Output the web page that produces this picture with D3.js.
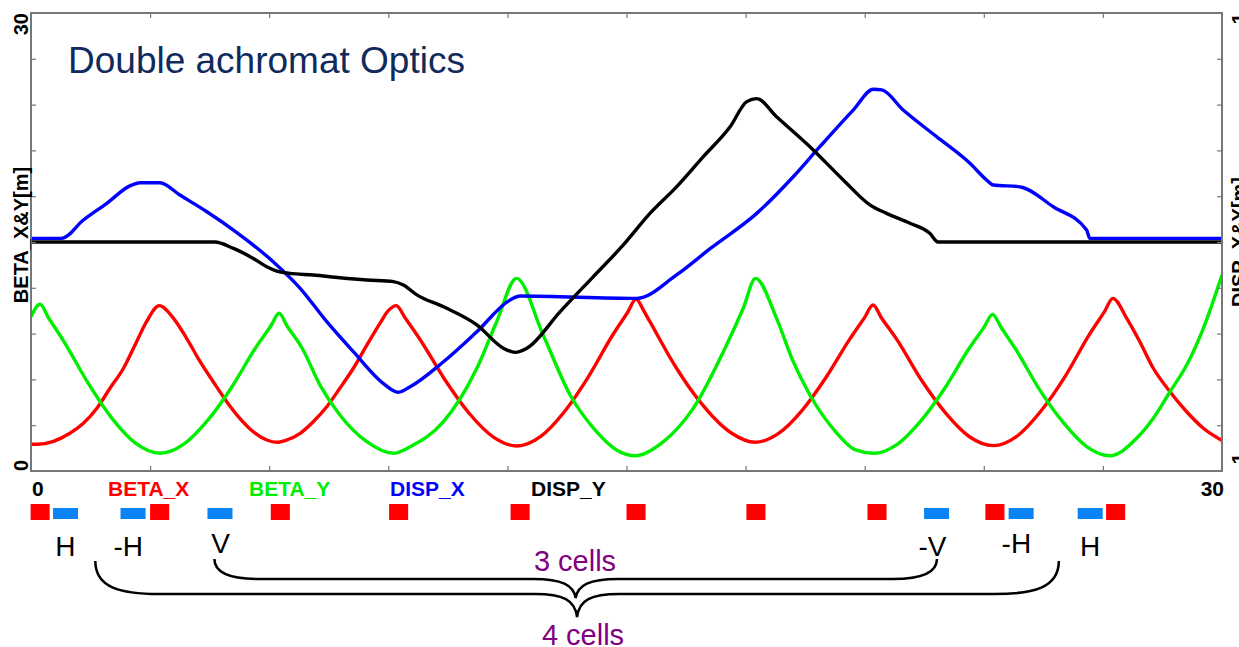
<!DOCTYPE html>
<html>
<head>
<meta charset="utf-8">
<script src="https://cdn.jsdelivr.net/npm/d3@7"></script>
<style>
  body { margin: 0; background: #fff; }
  text { font-family: "Liberation Sans", Arial, sans-serif; }
</style>
</head>
<body>
<div id="chart"></div>
<script>
// optics functions: [s (m), value]
const betaX = [
  [0, 1.75], [0.18, 1.75], [0.98, 2.47], [1.32, 3.12], [1.66, 4.11], [1.99, 5.42], [2.33, 6.73], [2.66, 8.47], [2.91, 9.78], [3.23, 10.83],
  [3.59, 10.0], [3.92, 8.69], [4.26, 7.16], [4.59, 5.85], [4.93, 4.54], [5.26, 3.45], [5.60, 2.57], [5.94, 2.03], [6.19, 1.88],
  [6.44, 2.03], [6.78, 2.47], [7.11, 3.23], [7.45, 4.21], [7.78, 5.42], [8.12, 6.73], [8.46, 8.25], [8.79, 9.67], [9.0, 10.5], [9.2, 10.83],
  [9.43, 10.0], [9.82, 8.53], [10.43, 5.96], [11.03, 3.80], [11.64, 2.24], [12.24, 1.64],
  [12.84, 2.27], [13.44, 3.90], [14.04, 6.17], [14.64, 8.86], [15.03, 10.40], [15.24, 11.27],
  [15.45, 10.42], [15.59, 9.78], [16.26, 6.73], [16.85, 4.54], [17.64, 2.49], [18.24, 1.88],
  [18.83, 2.46], [19.43, 3.99], [20.02, 6.11], [20.62, 8.62], [21.0, 10.06], [21.21, 10.87],
  [21.42, 10.04], [21.82, 8.57], [22.42, 5.99], [23.03, 3.82], [23.63, 2.26], [24.24, 1.66],
  [24.84, 2.29], [25.44, 3.93], [26.05, 6.20], [26.65, 8.90], [27.04, 10.44], [27.25, 11.31],
  [27.6, 10.0], [27.93, 8.47], [28.27, 6.73], [28.69, 5.19], [29.11, 3.88], [29.53, 2.80], [30, 2.0]
];

const betaY = [
  [0, 10.11], [0.23, 10.92], [0.44, 10.04], [0.83, 8.48], [1.44, 5.75], [2.04, 3.45], [2.65, 1.79], [3.25, 1.16],
  [3.85, 1.76], [4.45, 3.31], [5.05, 5.47], [5.65, 8.04], [6.04, 9.50], [6.25, 10.33],
  [6.45, 9.50], [6.83, 8.04], [7.28, 5.63], [7.78, 3.67], [8.46, 1.92], [9.13, 1.16],
  [9.55, 1.59], [10.39, 3.23], [11.23, 6.73], [11.73, 9.78], [12.23, 12.62],
  [12.9, 8.91], [13.58, 4.98], [14.25, 2.57], [14.75, 1.38], [15.23, 1.0],
  [15.93, 1.92], [16.68, 4.1], [17.52, 8.25], [17.94, 10.66], [18.25, 12.62],
  [18.78, 10.0], [19.2, 7.16], [19.62, 4.98], [20.27, 2.57], [20.77, 1.38], [21.22, 1.16],
  [21.82, 1.75], [22.42, 3.30], [23.02, 5.44], [23.62, 7.99], [24.01, 9.44], [24.22, 10.26],
  [24.43, 9.43], [24.81, 7.95], [25.40, 5.35], [26.0, 3.18], [26.59, 1.60], [27.18, 1.0],
  [27.85, 2.14], [28.27, 3.45], [28.69, 5.19], [29.11, 6.94], [29.53, 9.35], [30, 12.84]
];

const dispX = [
  [0, 0.016], [0.77, 0.016], [1.32, 0.096], [1.91, 0.169], [2.49, 0.245], [2.75, 0.259], [3.25, 0.259],
  [3.75, 0.205], [4.43, 0.132], [5.10, 0.052], [6.10, -0.086], [6.78, -0.202], [7.45, -0.348],
  [8.12, -0.479], [8.87, -0.617], [9.25, -0.656], [9.55, -0.632], [10.39, -0.523], [11.23, -0.392],
  [12.07, -0.253], [12.32, -0.236], [15.26, -0.246], [16.26, -0.144], [17.13, -0.026], [18.28, 0.125],
  [19.20, 0.285], [19.87, 0.416], [20.71, 0.576], [21.22, 0.667], [21.43, 0.664], [21.97, 0.576],
  [22.81, 0.46], [23.65, 0.344], [24.07, 0.271], [24.24, 0.249], [24.91, 0.241], [25.75, 0.154],
  [26.59, 0.052], [26.67, 0.016], [30, 0.016]
];

const dispY = [
  [0, 0], [4.63, 0], [5.10, -0.028], [5.60, -0.072], [5.94, -0.108], [6.19, -0.127], [6.52, -0.137],
  [7.11, -0.144], [7.78, -0.156], [8.46, -0.166], [9.13, -0.173], [9.38, -0.188], [9.72, -0.231],
  [10.39, -0.283], [11.23, -0.362], [11.90, -0.464], [12.19, -0.482], [12.49, -0.464], [13.33, -0.304],
  [14.16, -0.152], [14.92, -0.013], [15.59, 0.125], [16.26, 0.241], [16.93, 0.372], [17.61, 0.503],
  [18.03, 0.613], [18.28, 0.626], [18.78, 0.547], [19.62, 0.416], [20.46, 0.271], [21.13, 0.162],
  [21.55, 0.125], [22.14, 0.082], [22.64, 0.038], [22.85, 0], [30, 0]
];

// lattice elements (centre s in m)
const quadS = [0.23, 3.24, 6.28, 9.26, 12.32, 15.24, 18.26, 21.31, 24.28, 27.32];
const bendS = [0.87, 2.57, 4.76, 22.81, 24.94, 26.68];
const bendLabels = ["H", "-H", "V", "-V", "-H", "H"];

// braces under the lattice
const braceFrom = [4.62, 1.62];
const braceTo = [22.82, 25.89];
const braceLabels = ["3 cells", "4 cells"];

const legendNames = ["BETA_X", "BETA_Y", "DISP_X", "DISP_Y"];
const legendColors = ["#ff0000", "#00ee00", "#0000ff", "#000000"];

//*********************************************
// canvas
const W = 1239, H = 647;
const frame = {left: 31, right: 1222, top: 13, bottom: 471};

const svg = d3.select("#chart").append("svg")
    .attr("width", W)
    .attr("height", H);

svg.append("rect").attr("width", W).attr("height", H).attr("fill", "#fff");

const x = d3.scaleLinear().domain([0, 30]).range([frame.left, frame.right]);
const yBeta = d3.scaleLinear().domain([0, 30]).range([frame.bottom, frame.top]);
const yDisp = d3.scaleLinear().domain([-1, 1]).range([frame.bottom, frame.top]);

svg.append("clipPath").attr("id", "clip")
  .append("rect")
    .attr("x", frame.left).attr("y", frame.top)
    .attr("width", frame.right - frame.left)
    .attr("height", frame.bottom - frame.top);

// title
svg.append("text")
    .attr("x", 68)
    .attr("y", 73)
    .attr("fill", "#102a5c")
    .style("font-size", "37px")
    .text("Double achromat Optics");

// curves
const curves = [
  {data: betaX, y: yBeta, color: legendColors[0]},
  {data: betaY, y: yBeta, color: legendColors[1]},
  {data: dispX, y: yDisp, color: legendColors[2]},
  {data: dispY, y: yDisp, color: legendColors[3]}
];

const gCurves = svg.append("g").attr("clip-path", "url(#clip)");
curves.forEach(c => {
  const line = d3.line()
      .x(d => x(d[0]))
      .y(d => c.y(d[1]))
      .curve(d3.curveMonotoneX);
  gCurves.append("path")
      .datum(c.data)
      .attr("d", line)
      .attr("fill", "none")
      .attr("stroke", c.color)
      .attr("stroke-width", 3.4)
      .attr("stroke-linejoin", "round");
});

// frame and inward ticks
const frameColor = "#777";
const tickStyle = g => {
  g.select(".domain").remove();
  g.selectAll(".tick line").attr("stroke", frameColor).attr("stroke-width", 1.2);
  g.selectAll(".tick text").remove();
};
const sTicks = d3.range(3, 30, 3);

svg.append("g").attr("transform", `translate(0,${frame.bottom})`)
    .call(d3.axisTop(x).tickValues(sTicks).tickSize(5)).call(tickStyle);
svg.append("g").attr("transform", `translate(0,${frame.top})`)
    .call(d3.axisBottom(x).tickValues(sTicks).tickSize(5)).call(tickStyle);
svg.append("g").attr("transform", `translate(${frame.left},0)`)
    .call(d3.axisRight(yBeta).tickValues(sTicks).tickSize(5)).call(tickStyle);
svg.append("g").attr("transform", `translate(${frame.right},0)`)
    .call(d3.axisLeft(yDisp).tickValues(d3.range(-0.8, 0.81, 0.2)).tickSize(5)).call(tickStyle);

svg.append("rect")
    .attr("x", frame.left).attr("y", frame.top)
    .attr("width", frame.right - frame.left)
    .attr("height", frame.bottom - frame.top)
    .attr("fill", "none")
    .attr("stroke", frameColor)
    .attr("stroke-width", 2);

// rotated axis labels (the right ones run off the page edge, as in the original)
const rotText = (px, py, anchor, str) => svg.append("text")
    .attr("transform", `translate(${px},${py}) rotate(-90)`)
    .attr("text-anchor", anchor)
    .style("font-size", "20px")
    .style("font-weight", "bold")
    .text(str);

rotText(28, frame.top, "end", yBeta.domain()[1]);
rotText(28, frame.bottom, "start", yBeta.domain()[0]);
rotText(28, 235, "middle", "BETA_X&Y[m]");
rotText(1246, frame.top, "end", yDisp.domain()[1]);
rotText(1246, frame.bottom, "start", yDisp.domain()[0]);
rotText(1246, 242, "middle", "DISP_X&Y[m]");

// s-axis end labels and legend
const bottomLab = svg.append("g").style("font-size", "21px").style("font-weight", "bold");
bottomLab.append("text").attr("x", x(0) + 1).attr("y", 496).text(x.domain()[0]);
bottomLab.append("text").attr("x", x(30) + 2).attr("y", 496).attr("text-anchor", "end").text(x.domain()[1]);
bottomLab.selectAll(".legend")
  .data(legendNames)
  .enter().append("text")
    .attr("class", "legend")
    .attr("x", (d, i) => 108 + i * 141)
    .attr("y", 496)
    .attr("fill", (d, i) => legendColors[i])
    .text(d => d);

// magnets
const quadLen = 0.48, bendLen = 0.63;
svg.selectAll(".quad")
  .data(quadS)
  .enter().append("rect")
    .attr("class", "quad")
    .attr("x", d => x(d - quadLen / 2))
    .attr("y", 504)
    .attr("width", x(quadLen) - x(0))
    .attr("height", 16)
    .attr("fill", "#ff0000");

svg.selectAll(".bend")
  .data(bendS)
  .enter().append("rect")
    .attr("class", "bend")
    .attr("x", d => x(d - bendLen / 2))
    .attr("y", 508)
    .attr("width", x(bendLen) - x(0))
    .attr("height", 11)
    .attr("fill", "#0a84f5");

svg.selectAll(".bendlabel")
  .data(bendS)
  .enter().append("text")
    .attr("class", "bendlabel")
    .attr("x", d => x(d) + 10)
    .attr("y", (d, i) => i === 2 || i === 4 ? 553 : 556)
    .attr("text-anchor", "end")
    .style("font-size", "28px")
    .text((d, i) => bendLabels[i]);

// braces
const braceTop = [559, 561], braceBar = [579, 594], braceTip = [598, 617], braceCurve = [44, 64];
braceFrom.forEach((s0, i) => {
  const xl = x(s0), xr = x(braceTo[i]), xm = (xl + xr) / 2;
  const t = braceTop[i], b = braceBar[i], tip = braceTip[i], c = braceCurve[i];
  const p = d3.path();
  p.moveTo(xl, t);
  p.bezierCurveTo(xl, b - 6, xl + c * 0.4, b, xl + c, b);
  p.lineTo(xm - 42, b);
  p.bezierCurveTo(xm - 14, b, xm - 2, b + 6, xm, tip);
  p.bezierCurveTo(xm + 2, b + 6, xm + 14, b, xm + 42, b);
  p.lineTo(xr - c, b);
  p.bezierCurveTo(xr - c * 0.4, b, xr, b - 6, xr, t);
  svg.append("path")
      .attr("d", p.toString())
      .attr("fill", "none")
      .attr("stroke", "#000")
      .attr("stroke-width", 2.5);
});

svg.selectAll(".bracelabel")
  .data(braceLabels)
  .enter().append("text")
    .attr("class", "bracelabel")
    .attr("x", (d, i) => i === 0 ? 575 : 583)
    .attr("y", (d, i) => i === 0 ? 571 : 645)
    .attr("text-anchor", "middle")
    .attr("fill", "#800080")
    .style("font-size", "29px")
    .text(d => d);
</script>
</body>
</html>
